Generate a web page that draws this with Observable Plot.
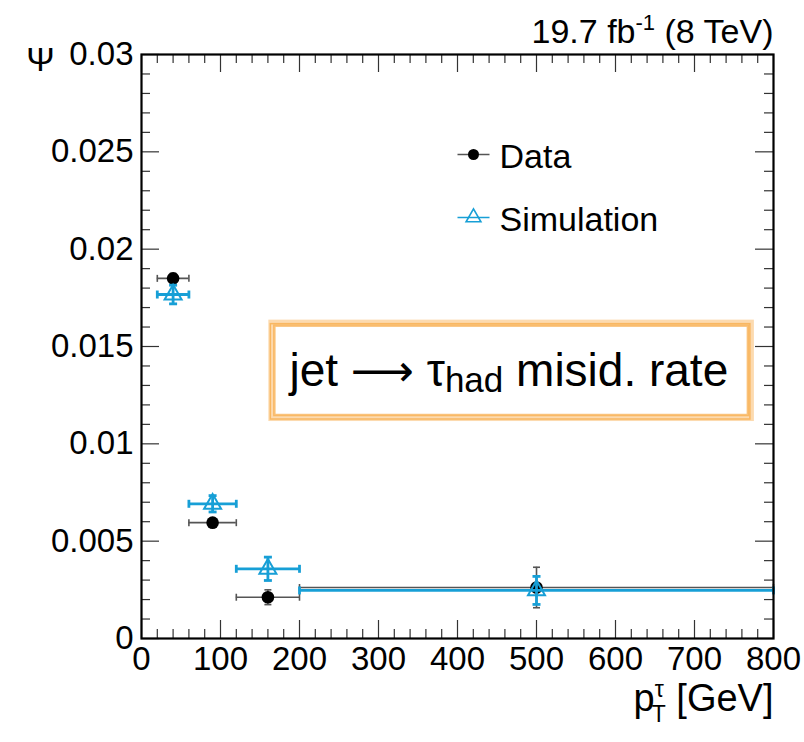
<!DOCTYPE html>
<html><head><meta charset="utf-8">
<script src="https://cdn.jsdelivr.net/npm/d3@7"></script>
<script src="https://cdn.jsdelivr.net/npm/@observablehq/plot@0.6"></script>
<style>
html,body{margin:0;padding:0;background:#fff;}
svg{display:block;}
</style></head><body>
<script>
// ---- data ----
const binLow = [20, 60, 120, 200];
const binHigh = [60, 120, 200, 800];
const binCenter = [40, 90, 160, 500];
const dataRate = [0.01850, 0.00595, 0.00212, 0.00262];
const dataErr = [0.00025, 0.00020, 0.00038, 0.00104];
const simRate = [0.01767, 0.00692, 0.00358, 0.00247];
const simErr = [0.00048, 0.00042, 0.00060, 0.00072];
const seriesNames = ["Data", "Simulation"];
const xTicks = [0, 100, 200, 300, 400, 500, 600, 700, 800];
const xTickLabels = ["0", "100", "200", "300", "400", "500", "600", "700", "800"];
const yTicks = [0, 0.005, 0.01, 0.015, 0.02, 0.025, 0.03];
const yTickLabels = ["0", "0.005", "0.01", "0.015", "0.02", "0.025", "0.03"];
const lumiLabel = "19.7 fb-1 (8 TeV)";
const yLabel = "Ψ";
const xLabel = "pTτ [GeV]";
const boxLabel = "jet → τhad misid. rate";

// ---- layout / style ----
const W = 804, H = 742, mL = 141, mR = 31, mT = 54, mB = 104;
const fw = W - mL - mR, fh = H - mT - mB;
const FONT = "'Liberation Sans', Arial, Helvetica, sans-serif";
const BLUE = "#179fd6", GRAY = "#555", ORANGE = "#f8ae4e";

const bins = binCenter.map((c, i) => ({
  c, lo: binLow[i], hi: binHigh[i],
  d: dataRate[i], de: dataErr[i], s: simRate[i], se: simErr[i]
}));

const xMinor = d3.range(0, 801, 20).filter(v => v % 100 !== 0);
const yMinor = d3.range(1, 30).filter(i => i % 5 !== 0).map(i => i / 1000);

const vcap = {draw(ctx, size) { const h = Math.sqrt(size / Math.PI); ctx.moveTo(0, -h); ctx.lineTo(0, h); }};
const hcap = {draw(ctx, size) { const h = Math.sqrt(size / Math.PI); ctx.moveTo(-h, 0); ctx.lineTo(h, 0); }};

function errMarks(yk, ek, color, sw, capR) {
  return [
    Plot.ruleY(bins, {y: yk, x1: "lo", x2: "hi", stroke: color, strokeWidth: sw}),
    Plot.dot(bins, {x: "lo", y: yk, symbol: vcap, r: capR, stroke: color, strokeWidth: sw}),
    Plot.dot(bins, {x: "hi", y: yk, symbol: vcap, r: capR, stroke: color, strokeWidth: sw}),
    Plot.ruleX(bins, {x: "c", y1: d => d[yk] - d[ek], y2: d => d[yk] + d[ek], stroke: color, strokeWidth: sw}),
    Plot.dot(bins, {x: "c", y: d => d[yk] - d[ek], symbol: hcap, r: capR, stroke: color, strokeWidth: sw}),
    Plot.dot(bins, {x: "c", y: d => d[yk] + d[ek], symbol: hcap, r: capR, stroke: color, strokeWidth: sw})
  ];
}

const tickCol = "#333";
const svg = Plot.plot({
  width: W, height: H,
  marginLeft: mL, marginRight: mR, marginTop: mT, marginBottom: mB,
  style: {fontFamily: FONT, background: "white", color: "black"},
  x: {domain: [0, 800]},
  y: {domain: [0, 0.03]},
  marks: [
    // sketchy orange annotation box
    Plot.rect([0], {x1: 165, x2: 772, y1: 0.0113, y2: 0.0162, fill: "none", stroke: ORANGE, strokeWidth: 6, strokeOpacity: 0.45}),
    Plot.rect([0], {x1: 165, x2: 772, y1: 0.0113, y2: 0.0162, inset: 3, fill: "none", stroke: ORANGE, strokeWidth: 2.5, strokeOpacity: 0.75}),
    Plot.rect([0], {x1: 165, x2: 772, y1: 0.0113, y2: 0.0162, insetLeft: -1, insetTop: 1, insetRight: 1, insetBottom: -1, fill: "none", stroke: ORANGE, strokeWidth: 1.5, strokeOpacity: 0.8}),
    Plot.text([boxLabel], {x: 465, y: 0.01295, text: d => d, textAnchor: "middle", lineAnchor: "bottom", fontSize: 46, fill: "black"}),

    // ticks (inward)
    Plot.tickX(xTicks, {x: d => d, insetTop: fh - 18, stroke: tickCol, strokeWidth: 1.2}),
    Plot.tickX(xTicks, {x: d => d, insetBottom: fh - 18, stroke: tickCol, strokeWidth: 1.2}),
    Plot.tickX(xMinor, {x: d => d, insetTop: fh - 9, stroke: tickCol, strokeWidth: 1.2}),
    Plot.tickX(xMinor, {x: d => d, insetBottom: fh - 9, stroke: tickCol, strokeWidth: 1.2}),
    Plot.tickY(yTicks, {y: d => d, insetRight: fw - 18, stroke: tickCol, strokeWidth: 1.2}),
    Plot.tickY(yTicks, {y: d => d, insetLeft: fw - 18, stroke: tickCol, strokeWidth: 1.2}),
    Plot.tickY(yMinor, {y: d => d, insetRight: fw - 9, stroke: tickCol, strokeWidth: 1.2}),
    Plot.tickY(yMinor, {y: d => d, insetLeft: fw - 9, stroke: tickCol, strokeWidth: 1.2}),

    // axes labels
    Plot.axisX(xTicks, {anchor: "bottom", tickSize: 0, tickPadding: 8, fontSize: 33, label: null,
      tickFormat: d => xTickLabels[xTicks.indexOf(d)]}),
    Plot.axisY(yTicks, {anchor: "left", tickSize: 0, tickPadding: 8, fontSize: 33, label: null,
      tickFormat: d => yTickLabels[yTicks.indexOf(d)]}),

    // data
    ...errMarks("d", "de", GRAY, 1.6, 3.5),
    Plot.dot(bins, {x: "c", y: "d", r: 6.3, fill: "black"}),
    // simulation
    ...errMarks("s", "se", BLUE, 2.8, 4),
    Plot.dot(bins, {x: "c", y: "s", symbol: "triangle", r: 6.3, stroke: BLUE, strokeWidth: 2, fill: "none"}),

    // legend
    Plot.dot([0], {frameAnchor: "top-left", dx: 332, dy: 100, symbol: hcap, r: 16, stroke: GRAY, strokeWidth: 1.6}),
    Plot.dot([0], {frameAnchor: "top-left", dx: 332, dy: 100, r: 5.5, fill: "black"}),
    Plot.text([seriesNames[0]], {frameAnchor: "top-left", dx: 358, dy: 113, text: d => d, textAnchor: "start", lineAnchor: "bottom", fontSize: 34}),
    Plot.dot([0], {frameAnchor: "top-left", dx: 332, dy: 163, symbol: hcap, r: 16, stroke: BLUE, strokeWidth: 1.6}),
    Plot.dot([0], {frameAnchor: "top-left", dx: 332, dy: 163, symbol: "triangle", r: 5.5, stroke: BLUE, strokeWidth: 1.6, fill: "none"}),
    Plot.text([seriesNames[1]], {frameAnchor: "top-left", dx: 358, dy: 176, text: d => d, textAnchor: "start", lineAnchor: "bottom", fontSize: 34}),

    // titles
    Plot.text([lumiLabel], {frameAnchor: "top-right", dy: -12, text: d => d, textAnchor: "end", lineAnchor: "bottom", fontSize: 34}),
    Plot.text([yLabel], {frameAnchor: "top-left", dx: -101, dy: 16, text: d => d, textAnchor: "middle", lineAnchor: "bottom", fontSize: 34}),
    Plot.text([xLabel], {frameAnchor: "bottom-right", dy: 72, text: d => d, textAnchor: "end", lineAnchor: "bottom", fontSize: 38}),

    Plot.frame({stroke: "black", strokeWidth: 2.2})
  ]
});

// rich text (sub/superscripts) as tspans
function rich(key, parts) {
  d3.select(svg).selectAll("text").filter(function () { return this.textContent === key; }).each(function () {
    const t = d3.select(this);
    t.text(null);
    for (const p of parts) {
      const s = t.append("tspan").text(p.t);
      if (p.dx != null) s.attr("dx", p.dx);
      if (p.dy != null) s.attr("dy", p.dy);
      if (p.size != null) s.attr("font-size", p.size);
      if (p.font != null) s.attr("font-family", p.font);
    }
  });
}
rich(lumiLabel, [{t: "19.7 fb"}, {t: "-1", size: 22, dy: -13}, {t: " (8 TeV)", size: 34, dy: 13}]);
rich(xLabel, [{t: "p"}, {t: "τ", size: 23, dy: -14}, {t: "T", size: 23, dx: -12, dy: 25}, {t: " [GeV]", size: 38, dy: -11}]);
rich(boxLabel, [{t: "jet "}, {t: "⟶", font: "'DejaVu Sans', sans-serif", size: 44}, {t: " τ", size: 46}, {t: "had", size: 35, dy: 6}, {t: " misid. rate", size: 46, dy: -6}]);

document.body.append(svg);
</script>
</body></html>
